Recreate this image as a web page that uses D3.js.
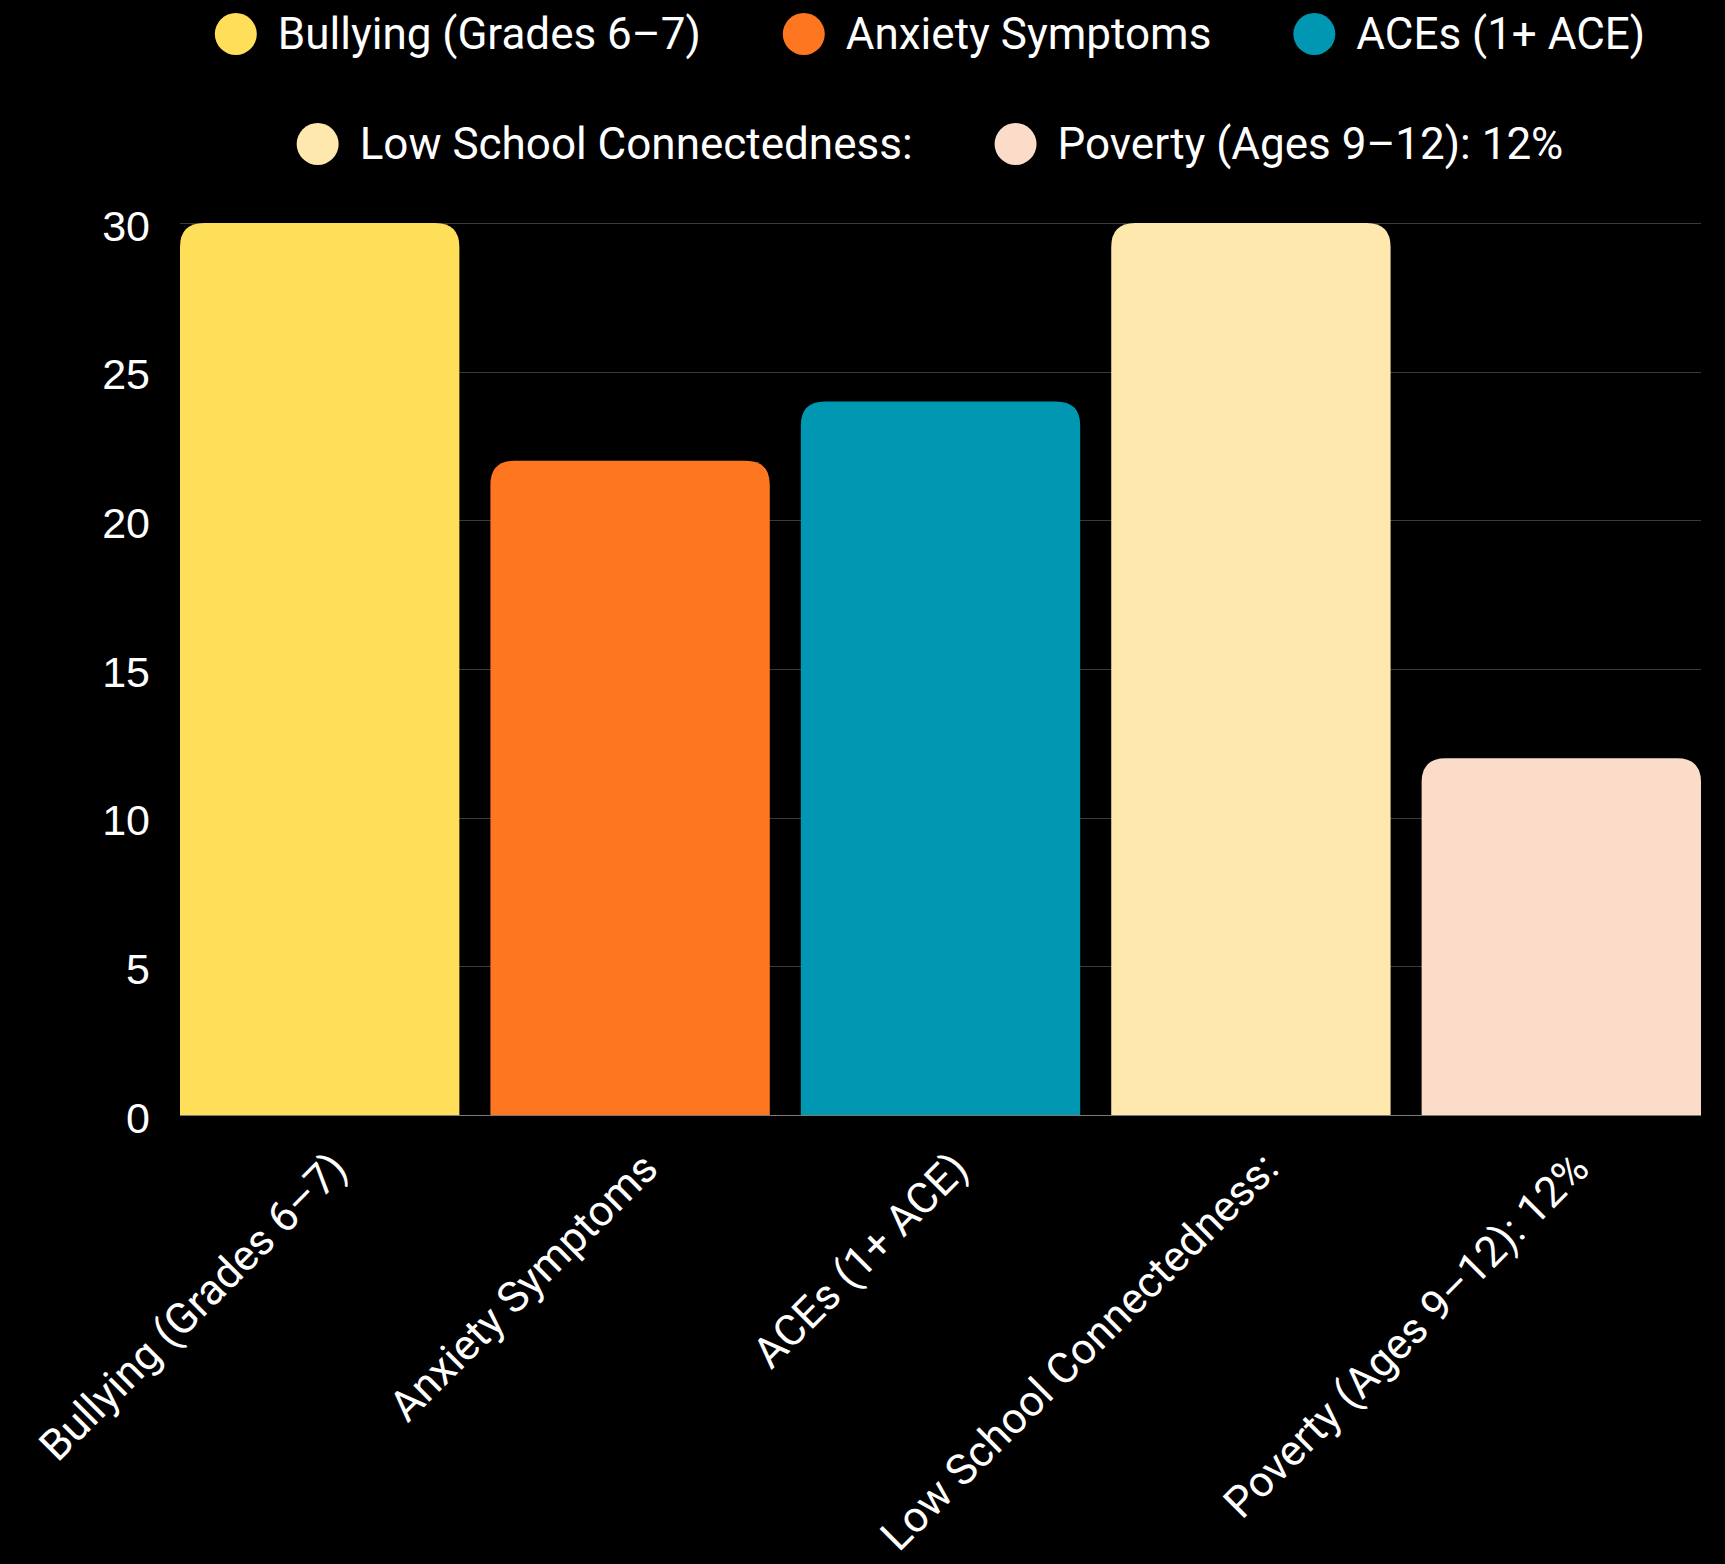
<!DOCTYPE html>
<html>
<head>
<meta charset="utf-8">
<script src="https://cdn.jsdelivr.net/npm/d3@7"></script>
<style>
  html, body { margin: 0; padding: 0; background: #000; }
  svg { display: block; }
</style>
</head>
<body>
<script>
const categories = ["Bullying (Grades 6–7)", "Anxiety Symptoms", "ACEs (1+ ACE)", "Low School Connectedness:", "Poverty (Ages 9–12): 12%"];
const values = [30, 22, 24, 30, 12];
const colors = ["#FFDE59", "#FF7620", "#0097B2", "#FEE8AD", "#FADCC8"];
const yTicks = [0, 5, 10, 15, 20, 25, 30];
const legendRows = [[0, 1, 2], [3, 4]];

const W = 1725, H = 1564;
const margin = { left: 180, right: 24, top: 223, bottom: 449 };
const plotBottom = H - margin.bottom; // 1115

const svg = d3.select("body").append("svg").attr("width", W).attr("height", H);
svg.append("rect").attr("width", W).attr("height", H).attr("fill", "#000");

const x = d3.scaleBand().domain(categories).range([margin.left, W - margin.right]).paddingInner(0.1).paddingOuter(0);
const y = d3.scaleLinear().domain([0, 30]).range([plotBottom, margin.top]);

// gridlines
svg.append("g").selectAll("line").data(yTicks.filter(d => d > 0)).join("line")
  .attr("x1", margin.left).attr("x2", W - margin.right)
  .attr("y1", d => Math.round(y(d)) + 0.5).attr("y2", d => Math.round(y(d)) + 0.5)
  .attr("stroke", "#3a3a3a").attr("stroke-width", 1);

// baseline
svg.append("line").attr("x1", margin.left).attr("x2", W - margin.right)
  .attr("y1", plotBottom + 0.5).attr("y2", plotBottom + 0.5)
  .attr("stroke", "#7a7a7a").attr("stroke-width", 1);

// bars with rounded top corners
const r = 24;
function barPath(x0, w, yTop, yBot) {
  const rr = Math.min(r, w / 2, (yBot - yTop));
  return `M${x0},${yBot} V${yTop + rr} Q${x0},${yTop} ${x0 + rr},${yTop} H${x0 + w - rr} Q${x0 + w},${yTop} ${x0 + w},${yTop + rr} V${yBot} Z`;
}
svg.append("g").selectAll("path").data(categories).join("path")
  .attr("d", (d, i) => barPath(x(d), x.bandwidth(), y(values[i]), y(0)))
  .attr("fill", (d, i) => colors[i]);

// y axis
const yAxis = svg.append("g").attr("transform", `translate(${margin.left},0)`)
  .call(d3.axisLeft(y).tickValues(yTicks).tickSize(0).tickPadding(30));
yAxis.select(".domain").remove();
yAxis.selectAll("text").attr("fill", "#fff").attr("font-family", "'Liberation Sans', Arial, sans-serif")
  .attr("font-size", 43).attr("dy", "0.4em");

// x axis labels
const xAxis = svg.append("g").attr("transform", `translate(0,${plotBottom})`)
  .call(d3.axisBottom(x).tickSize(0).tickPadding(0));
xAxis.select(".domain").remove();
xAxis.selectAll("text")
  .attr("fill", "#fff")
  .attr("font-family", "Roboto, sans-serif")
  .attr("font-size", 43)
  .attr("text-anchor", "end")
  .attr("dy", null)
  .attr("transform", "translate(30,56) rotate(-45)");

// legend
const legend = svg.append("g");
const rowY = [34, 144];
const centerX = 930;
const gap = 82;
const fontSize = 44;
legendRows.forEach((row, ri) => {
  const g = legend.append("g");
  let cx = 0;
  row.forEach(idx => {
    g.append("circle").attr("cx", cx).attr("cy", rowY[ri]).attr("r", 21).attr("fill", colors[idx]);
    const t = g.append("text").attr("x", cx + 42).attr("y", rowY[ri]).attr("dy", "0.35em")
      .attr("fill", "#fff").attr("font-family", "Roboto, sans-serif").attr("font-size", fontSize)
      .text(categories[idx]);
    const w = t.node().getComputedTextLength();
    cx = cx + 42 + w + gap + 21;
  });
  const bb = g.node().getBBox();
  g.attr("transform", `translate(${centerX - (bb.x + bb.width / 2)},0)`);
});
</script>
</body>
</html>
